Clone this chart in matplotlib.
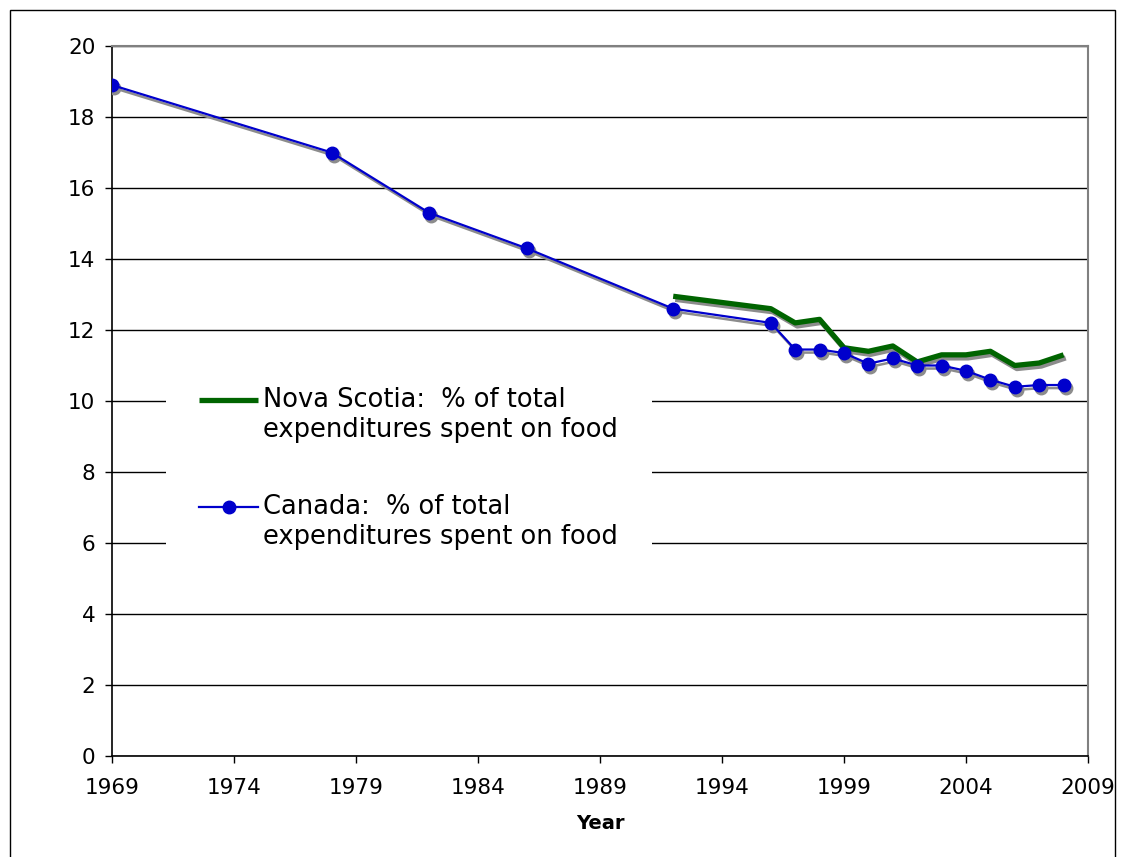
import numpy as np
import matplotlib
matplotlib.use("Agg")
import matplotlib.pyplot as plt
from matplotlib.transforms import ScaledTranslation
from matplotlib.legend_handler import HandlerLine2D
from matplotlib.patches import Rectangle

# ── Data ──────────────────────────────────────────────────────
canada_years = [1969, 1978, 1982, 1986, 1992, 1996, 1997, 1998, 1999, 2000,
                2001, 2002, 2003, 2004, 2005, 2006, 2007, 2008]
canada_pct = [18.9, 17.0, 15.3, 14.3, 12.6, 12.2, 11.45, 11.45, 11.35, 11.05,
              11.2, 11.0, 11.0, 10.85, 10.6, 10.4, 10.45, 10.45]

ns_years = [1992, 1996, 1997, 1998, 1999, 2000, 2001, 2002, 2003, 2004,
            2005, 2006, 2007, 2008]
ns_pct = [12.95, 12.6, 12.2, 12.3, 11.5, 11.4, 11.55, 11.1, 11.3, 11.3,
          11.4, 11.0, 11.07, 11.3]

ns_label = "Nova Scotia:  % of total\nexpenditures spent on food"
ca_label = "Canada:  % of total\nexpenditures spent on food"

x_ticks = list(range(1969, 2010, 5))
y_ticks = list(range(0, 21, 2))

GREEN = "#006400"
BLUE = "#0000CC"
SHADOW = "#8c8c8c"

plt.rcParams["font.family"] = ["DejaVu Sans"]

fig = plt.figure(figsize=(11.26, 8.57), dpi=100)
ax = fig.add_axes([112 / 1126, 101 / 857, 976 / 1126, 710 / 857])

# shadow copies, shifted a little down and right
shift = ax.transData + ScaledTranslation(1.5 / 72, -2.2 / 72, fig.dpi_scale_trans)
ax.plot(ns_years, ns_pct, color=SHADOW, lw=3.8, transform=shift,
        solid_capstyle="butt", zorder=3)
ax.plot(canada_years, canada_pct, color=SHADOW, lw=1.8, marker="o", ms=9,
        mec=SHADOW, transform=shift, zorder=3)

ax.plot(ns_years, ns_pct, color=GREEN, lw=3.8, solid_capstyle="butt",
        label=ns_label, zorder=4)
ax.plot(canada_years, canada_pct, color=BLUE, lw=1.6, marker="o", ms=9,
        mec=BLUE, label=ca_label, zorder=5)

ax.set_xlim(1969, 2009)
ax.set_ylim(0, 20)
ax.set_xticks(x_ticks)
ax.set_yticks(y_ticks)
ax.tick_params(labelsize=15.5, direction="out", length=5, width=1, color="black")
ax.tick_params(axis="x", pad=10.5)
ax.tick_params(axis="y", pad=7)
ax.set_xlabel("Year", fontsize=14, fontweight="bold", labelpad=12)

ax.yaxis.grid(True, color="black", lw=1)
ax.set_axisbelow(True)
for side in ["top", "right"]:
    ax.spines[side].set_color("#808080")
    ax.spines[side].set_linewidth(1.5)
for side in ["left", "bottom"]:
    ax.spines[side].set_color("black")
    ax.spines[side].set_linewidth(1.2)


# legend handle lined up with the first line of each label
class TopLineHandler(HandlerLine2D):
    def create_artists(self, legend, orig_handle, xdescent, ydescent,
                       width, height, fontsize, trans):
        arts = super().create_artists(legend, orig_handle, xdescent, ydescent,
                                      width, height, fontsize, trans)
        for a in arts:
            a.set_ydata(np.asarray(a.get_ydata()) + 0.62 * fontsize)
        return arts


leg = ax.legend(loc="upper left", bbox_to_anchor=(0.042, 0.585),
                fontsize=18.5, frameon=True, fancybox=False, framealpha=1,
                facecolor="white", edgecolor="none", borderpad=1.3,
                handlelength=2.3, handletextpad=0.2, labelspacing=2.0,
                handler_map={matplotlib.lines.Line2D: TopLineHandler()})
leg.set_zorder(6)

# outer chart border
fig.patches.append(Rectangle((10 / 1126, -0.01), 1105 / 1126, 847 / 857 + 0.01,
                             transform=fig.transFigure, fill=False,
                             edgecolor="black", lw=1))

fig.savefig("out.png", dpi=100)
